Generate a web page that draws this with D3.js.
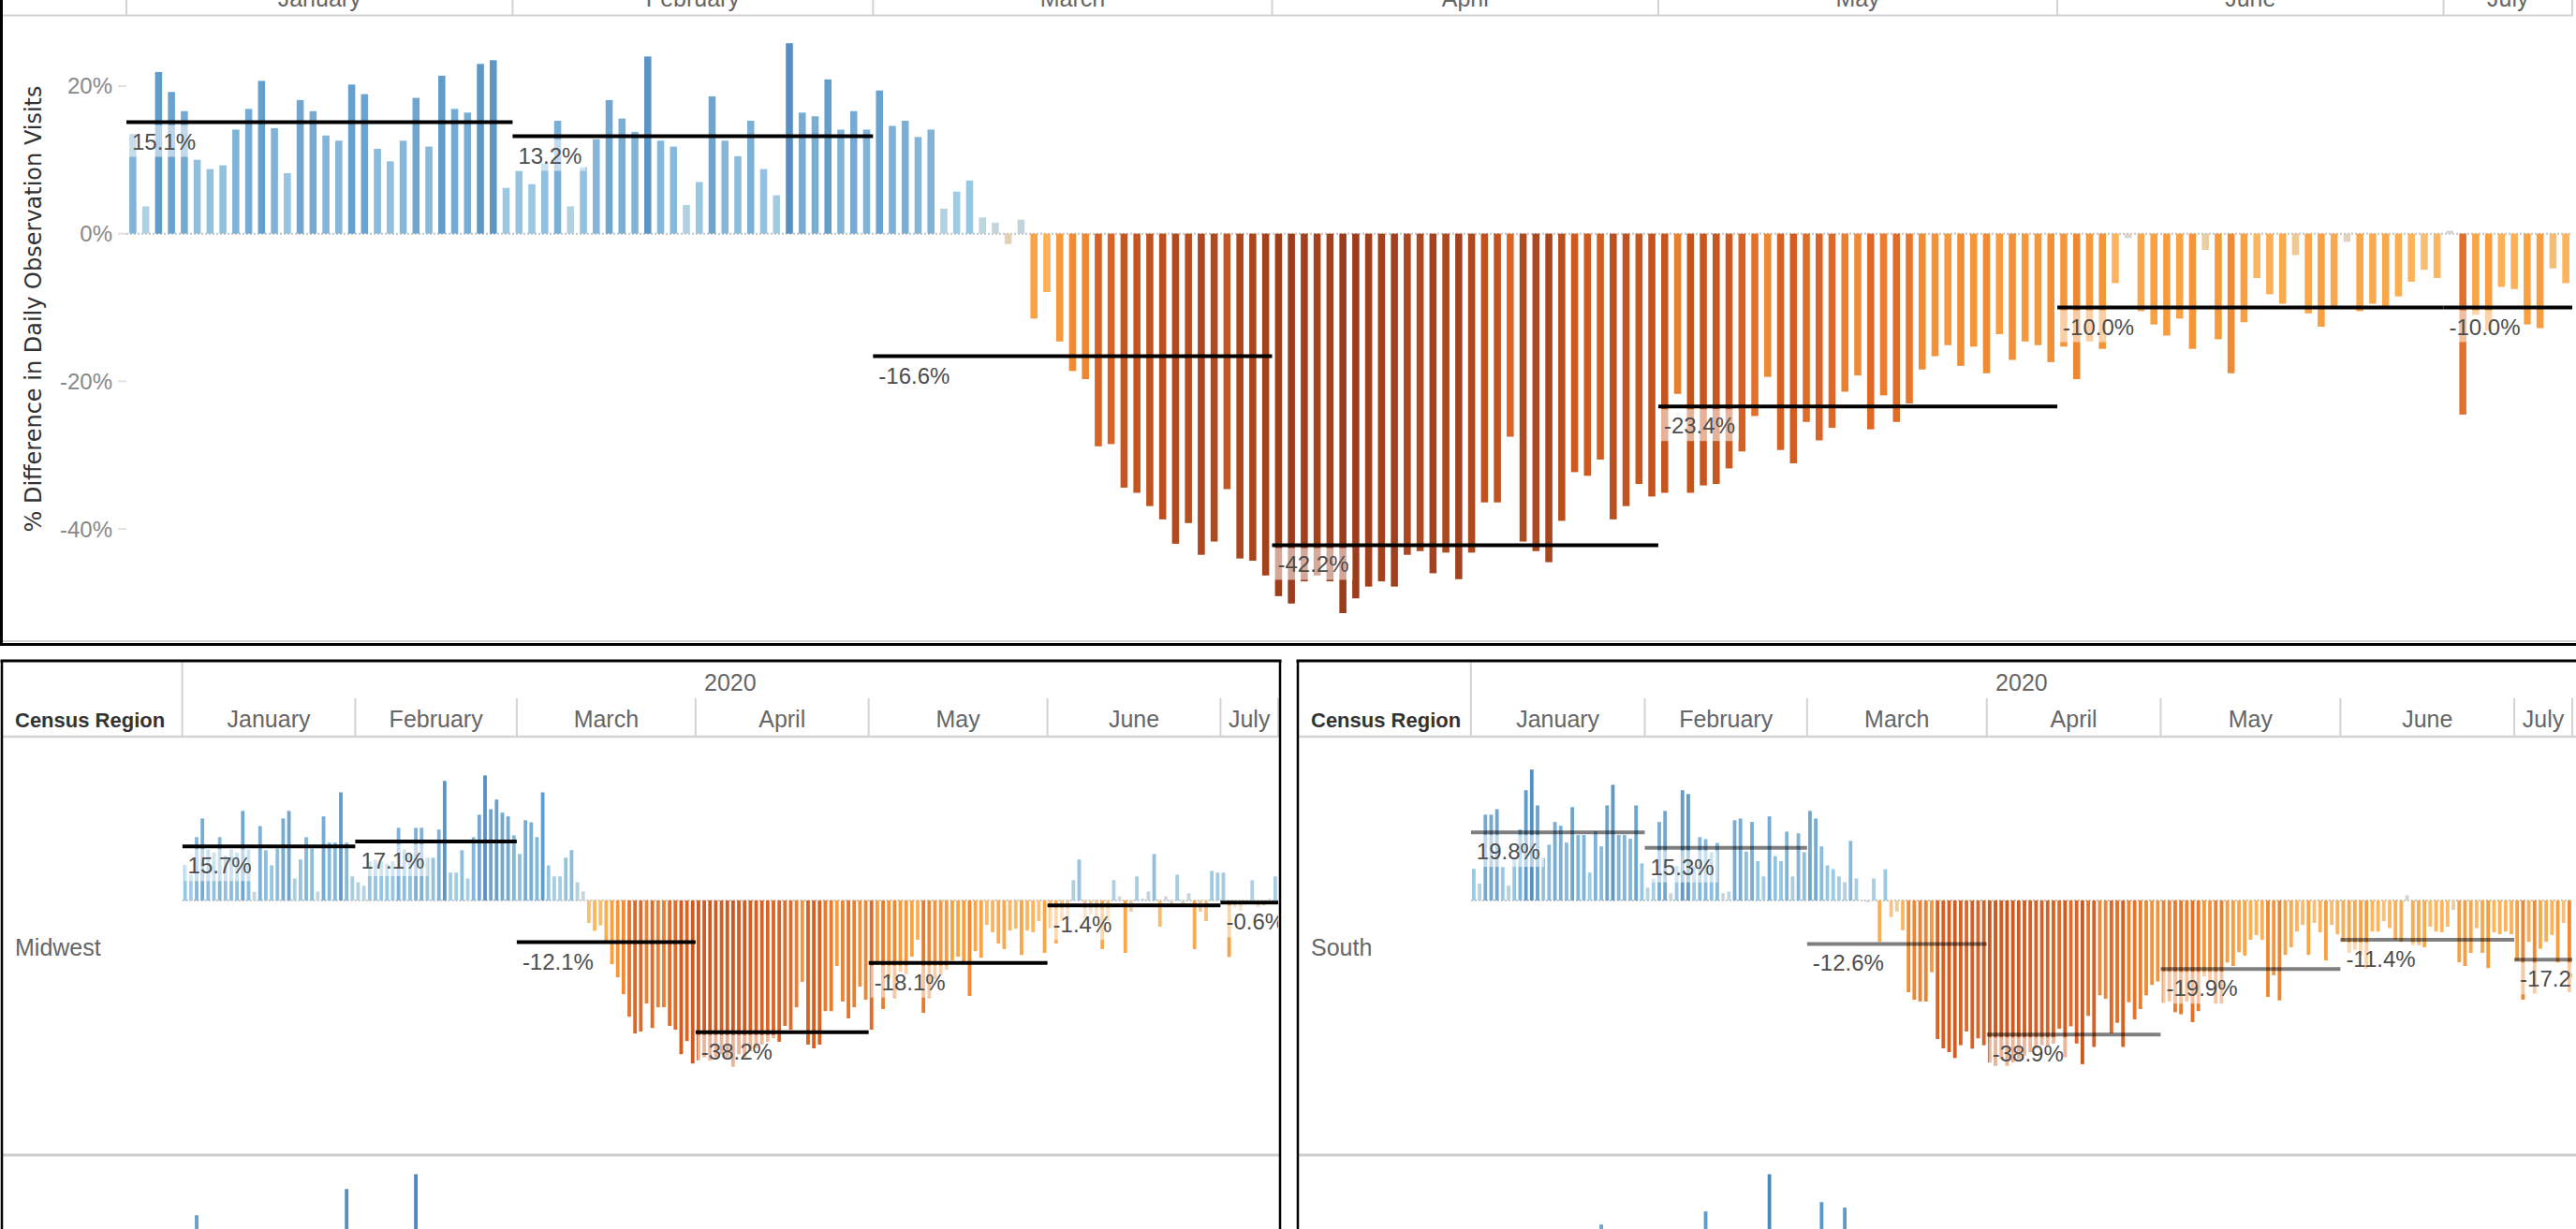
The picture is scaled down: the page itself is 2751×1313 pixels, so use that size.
<html>
<head>
<meta charset="utf-8">
<script src="https://d3js.org/d3.v7.min.js"></script>
<style>
body { margin: 0; background: white; overflow: hidden; }
text { font-family: "Liberation Sans", Arial, sans-serif; }
.tick-label { fill: #888; font-size: 24px; }
.head { fill: #666; font-size: 25px; }
.value-label { fill: #4d4d4d; font-size: 24px; }
.region-title { fill: #333; font-size: 22px; font-weight: bold; }
</style>
</head>
<body>
<svg id="chart" width="2751" height="1313"></svg>
<script>
// ---- data (% difference in daily observation visits, 2020) ----
var months = ["January", "February", "March", "April", "May", "June", "July"];
var monthDays = [30, 28, 31, 30, 31, 30, 10];
var yTicks = [20, 0, -20, -40];

var nationalValues = [
  13.5, 3.7, 21.9, 19.2, 16.6, 10.0, 8.75, 9.26, 14.1, 16.9, 20.7, 14.3, 8.2, 18.1, 16.6, 13.3, 12.6, 20.2, 18.9, 11.5, 9.8, 12.6, 18.4, 11.8, 21.4, 16.9, 16.4, 23.0, 23.5, 6.2,
  8.5, 6.7, 9.5, 15.3, 3.7, 9.0, 12.8, 18.1, 15.6, 13.8, 24.0, 12.6, 11.8, 3.9, 7.0, 18.6, 12.6, 10.5, 15.3, 8.75, 5.2, 25.8, 16.4, 15.9, 20.9, 14.1, 16.6, 14.1,
  19.4, 14.6, 15.3, 13.1, 14.1, 3.4, 5.7, 7.2, 2.2, 1.5, -1.4, 1.9, -11.5, -7.9, -14.6, -18.6, -19.7, -28.8, -28.5, -34.4, -35.1, -36.9, -38.7, -42.0, -39.2, -43.5, -41.7, -34.6, -44.0, -44.3, -46.3,
  -49.1, -50.1, -47.1, -46.3, -47.1, -51.4, -49.4, -47.8, -47.1, -47.8, -43.5, -43.0, -46.0, -43.2, -46.8, -43.2, -36.4, -36.4, -27.5, -41.7, -43.0, -44.5, -38.9, -32.3, -32.8, -30.6, -38.7, -36.9, -33.9, -35.6,
  -35.1, -21.7, -35.1, -34.1, -33.9, -31.8, -29.5, -24.7, -19.4, -29.3, -31.1, -25.5, -28.0, -26.3, -21.4, -19.2, -26.5, -21.9, -25.5, -23.0, -18.4, -16.6, -15.1, -17.9, -15.3, -18.9, -13.6, -17.1, -14.6, -15.1, -17.4,
  -15.3, -19.7, -14.6, -15.6, -6.7, -0.6, -10.5, -12.3, -13.8, -11.5, -15.6, -2.2, -14.3, -18.9, -12.0, -6.0, -8.2, -9.5, -2.9, -10.8, -12.6, -9.8, -1.1, -10.5, -9.5, -9.8, -8.5, -6.5, -4.9, -6.0,
  0.4, -24.5, -11.0, -13.1, -7.2, -7.5, -12.3, -12.8, -4.7, -6.7
];
var nationalAvg = [15.1, 13.2, -16.6, -42.2, -23.4, -10.0, -10.0];

var midwestValues = [
  10.3, 7.5, 18.4, 23.8, 14.8, 13.9, 18.4, 13.0, 14.8, 13.9, 26.0, 14.8, 2.5, 21.6, 14.6, 10.2, 15.1, 23.8, 26.0, 6.4, 11.9, 18.4, 15.1, 2.6, 24.4, 16.8, 16.8, 31.4, 16.8, 7.0,
  5.3, 4.3, 11.3, 11.8, 11.3, 10.7, 11.3, 21.1, 14.8, 13.3, 21.1, 21.1, 12.4, 12.4, 20.6, 34.7, 8.1, 8.1, 14.6, 6.4, 18.4, 24.9, 36.3, 26.5, 29.3, 25.5, 24.4, 18.9,
  13.5, 23.3, 22.7, 18.4, 31.4, 10.2, 7.0, 7.0, 12.4, 14.6, 5.3, 2.6, -6.5, -8.8, -7.2, -12.0, -18.5, -22.3, -27.2, -33.7, -38.6, -38.0, -29.9, -37.0, -31.0, -31.0, -36.4, -37.5, -44.6, -40.8, -47.3,
  -46.4, -45.5, -46.4, -45.5, -44.6, -45.5, -48.2, -44.6, -45.5, -43.7, -42.8, -41.8, -41.0, -40.0, -41.0, -36.4, -37.5, -31.0, -23.6, -41.8, -42.9, -41.8, -32.1, -32.1, -19.0, -29.3, -34.2, -31.0, -25.0, -28.8,
  -37.5, -18.7, -31.5, -22.8, -28.3, -20.7, -21.4, -16.3, -11.4, -32.6, -28.3, -22.8, -21.4, -20.1, -17.4, -16.3, -18.5, -27.7, -14.7, -16.6, -7.1, -9.2, -12.5, -14.1, -8.7, -8.2, -15.8, -8.7, -9.2, -6.0, -15.2,
  -8.0, -12.5, -6.0, -5.0, 5.9, 11.9, -5.0, -4.0, -5.0, -14.1, -6.0, 5.9, 1.2, -15.2, -3.3, 7.0, 0.6, 2.6, 13.5, -7.6, 1.2, -1.1, 7.5, -1.1, 2.1, -14.1, -3.3, -6.0, 8.6, 8.1,
  8.1, -16.4, -2.2, -3.0, -1.0, 5.9, -2.0, -1.5, 0.5, 7.0
];
var midwestAvg = [15.7, 17.1, -12.1, -38.2, -18.1, -1.4, -0.6];

var southValues = [
  9.2, 4.9, 24.9, 24.9, 26.5, 9.7, 4.3, 12.4, 20.6, 32.0, 38.0, 27.6, 12.4, 16.2, 22.8, 21.7, 16.8, 27.1, 19.0, 19.0, 8.1, 20.1, 15.7, 27.6, 33.6, 19.0, 19.0, 17.9, 27.6, 10.8,
  3.7, 6.4, 22.8, 26.0, 2.1, 10.0, 32.0, 30.9, 10.0, 18.4, 17.8, 14.0, 16.7, 2.1, 2.6, 23.3, 23.8, 14.2, 22.8, 11.4, 7.0, 24.4, 12.9, 11.4, 20.0, 7.0, 19.5, 14.0,
  26.0, 23.8, 15.7, 10.2, 9.1, 7.0, 5.3, 17.3, 6.4, -0.3, -0.5, 6.4, -12.0, 9.1, -4.8, -3.2, -8.6, -26.6, -28.8, -29.3, -29.3, -20.8, -40.2, -42.9, -44.0, -45.7, -42.0, -38.0, -43.0, -40.0, -42.0,
  -47.0, -48.0, -46.0, -48.0, -47.0, -46.0, -45.0, -44.0, -43.0, -42.0, -42.1, -41.5, -37.2, -45.5, -36.5, -41.5, -47.5, -33.5, -42.5, -27.5, -28.5, -38.5, -35.5, -42.5, -29.5, -34.5, -31.5, -27.5, -24.5, -23.5,
  -29.7, -29.3, -32.4, -33.0, -29.3, -35.3, -32.1, -22.0, -23.4, -29.9, -29.9, -18.0, -19.0, -15.0, -16.0, -11.4, -10.0, -11.4, -28.0, -21.7, -29.0, -15.8, -13.6, -9.0, -7.1, -15.8, -6.5, -9.2, -17.4, -7.1, -9.8,
  -12.0, -15.2, -14.3, -16.0, -19.7, -9.0, -9.0, -6.0, -8.0, -11.4, -12.0, 1.5, -13.0, -13.0, -13.6, -7.6, -9.0, -9.2, -7.6, -2.7, -17.9, -19.0, -15.2, -8.0, -15.2, -19.6, -9.2, -9.8, -9.0, -9.8,
  -17.4, -28.8, -12.0, -27.0, -14.0, -12.0, -10.0, -18.0, -6.5, -26.6
];
var southAvg = [19.8, 15.3, -12.6, -38.9, -19.9, -11.4, -17.2];

// next row of regions is cut off by the window: only the tallest peaks show [day index, value]
var lowerLeftPeaks = [[2, 30.1], [28, 37.7], [40, 42.0]];
var lowerRightPeaks = [[22, 27.4], [40, 31.2], [51, 42.0], [60, 33.9], [64, 32.3]];

// ---- drawing ----
var svg = d3.select('#chart');
var W = 2751;
var monthStart = Array.from(d3.cumsum([0].concat(monthDays)));
var gridColor = '#d3d3d3';

var colorScale = d3.scaleLinear()
  .domain([-50, -42, -34, -26, -19, -12, -6, -2, 0, 2, 6, 14, 22, 30])
  .range(['#9b3c1d', '#b04a1f', '#c8561f', '#e06927', '#f08a33', '#f9a142', '#fdb55e', '#e9cfa6',
          '#d6d6d6', '#c0d5de', '#9ccae3', '#7fb3d8', '#609bc9', '#4a84bb'])
  .clamp(true);

function pct(v) { return v.toFixed(1) + '%'; }

var defs = svg.append('defs');
function clip(id, x, y, w, h) {
  defs.append('clipPath').attr('id', id).append('rect')
    .attr('x', x).attr('y', y).attr('width', w).attr('height', h);
}

function hline(x1, x2, y, color, w) {
  svg.append('line').attr('x1', x1).attr('x2', x2).attr('y1', y).attr('y2', y)
    .attr('stroke', color).attr('stroke-width', w);
}
function vline(x, y1, y2, color, w) {
  svg.append('line').attr('x1', x).attr('x2', x).attr('y1', y1).attr('y2', y2)
    .attr('stroke', color).attr('stroke-width', w);
}

function drawSeries(values, avgs, x0, x1, y, opt) {
  var xb = d3.scaleBand().domain(d3.range(values.length)).range([x0, x1])
    .paddingInner(opt.pad).paddingOuter(opt.pad / 2);
  var xd = d3.scaleLinear().domain([0, values.length]).range([x0, x1]);
  var g = svg.append('g').attr('clip-path', 'url(#' + opt.clip + ')');

  g.append('line')
    .attr('x1', x0).attr('x2', x1).attr('y1', y(0)).attr('y2', y(0))
    .attr('stroke', '#c4c4c4').attr('stroke-width', 2).attr('stroke-dasharray', '2,2');

  g.selectAll('rect.bar').data(values).enter().append('rect')
    .attr('class', 'bar')
    .attr('x', function(d, i) { return xb(i); })
    .attr('width', xb.bandwidth())
    .attr('y', function(d) { return y(Math.max(0, d)); })
    .attr('height', function(d) { return Math.abs(y(d) - y(0)); })
    .attr('fill', function(d) { return colorScale(d / opt.colorDiv); });

  var boxes = g.append('g'), lines = g.append('g'), labels = g.append('g');
  avgs.forEach(function(a, m) {
    var ly = y(a);
    var lx0 = xd(monthStart[m]), lx1 = xd(monthStart[m + 1]);
    var t = labels.append('text').attr('class', 'value-label')
      .attr('x', lx0 + 6).attr('y', ly + 29).text(pct(a));
    var tw = t.node().getComputedTextLength();
    boxes.append('rect')
      .attr('x', lx0 + 2).attr('y', ly + 3).attr('width', tw + 8).attr('height', 34)
      .attr('fill', 'white').attr('fill-opacity', 0.55);
    lines.append('line')
      .attr('x1', lx0).attr('x2', lx1).attr('y1', ly).attr('y2', ly)
      .attr('stroke', opt.lineColor).attr('stroke-width', 4);
  });
  return xd;
}

function drawPeaks(peaks, n, x0, x1, y, clipId, colorDiv, pad) {
  var xb = d3.scaleBand().domain(d3.range(n)).range([x0, x1])
    .paddingInner(pad).paddingOuter(pad / 2);
  svg.append('g').attr('clip-path', 'url(#' + clipId + ')')
    .selectAll('rect').data(peaks).enter().append('rect')
    .attr('x', function(d) { return xb(d[0]); })
    .attr('width', xb.bandwidth())
    .attr('y', function(d) { return y(d[1]); })
    .attr('height', function(d) { return y(0) - y(d[1]); })
    .attr('fill', function(d) { return colorScale(d[1] / colorDiv); });
}

// ---------- top (national) chart ----------
var topL = 135, topR = 2747, topHead = 17, topBottom = 685;
var yTop = d3.scaleLinear().domain([-55.2, 29.5]).range([topBottom, topHead]);
clip('clipTop', topL, topHead, topR - topL, topBottom - topHead);

var xTop = drawSeries(nationalValues, nationalAvg, topL, topR, yTop,
  { pad: 0.45, clip: 'clipTop', colorDiv: 1, lineColor: '#000' });

// header (its labels sit mostly above the window, as in the dashboard crop)
hline(0, topR, 16.5, gridColor, 2);
vline(topL, 0, 17, gridColor, 2);
monthStart.slice(1).forEach(function(s) { vline(xTop(s), 0, 17, gridColor, 2); });
svg.append('g').selectAll('text').data(months).enter().append('text')
  .attr('class', 'head')
  .attr('text-anchor', 'middle')
  .attr('x', function(d, i) { return (xTop(monthStart[i]) + xTop(monthStart[i + 1])) / 2; })
  .attr('y', 7)
  .text(function(d) { return d; });

// y axis
var yAxisG = svg.append('g');
yAxisG.selectAll('line').data(yTicks).enter().append('line')
  .attr('x1', 126).attr('x2', topL).attr('y1', function(d) { return yTop(d); })
  .attr('y2', function(d) { return yTop(d); })
  .attr('stroke', '#e0e0e0').attr('stroke-width', 2);
yAxisG.selectAll('text').data(yTicks).enter().append('text')
  .attr('class', 'tick-label')
  .attr('text-anchor', 'end')
  .attr('x', 120)
  .attr('y', function(d) { return yTop(d); })
  .attr('dy', '0.35em')
  .text(function(d) { return d + '%'; });

svg.append('text')
  .attr('transform', 'translate(44,330) rotate(-90)')
  .attr('text-anchor', 'middle')
  .style('font-family', '"DejaVu Sans", Verdana, sans-serif')
  .style('font-size', '24px')
  .style('fill', '#333')
  .text('% Difference in Daily Observation Visits');

// frame of top sheet
hline(0, W, 685, gridColor, 2);
hline(0, W, 688.5, '#000', 3);
vline(1.5, 0, 690, '#000', 3);

// ---------- regional sheets ----------
var subTop = 706, headMid = 746, headBottom = 787, rowSplit = 1234, rowH = rowSplit - headBottom;
var ySub = d3.scaleLinear().domain([-73.6, 47.55]).range([rowSplit - 1, headBottom]);
var ySub2 = d3.scaleLinear().domain([-73.6, 47.55]).range([rowSplit - 1 + rowH, headBottom + rowH]);

function drawRegionSheet(p) {
  clip(p.id + 'A', p.x0, headBottom, p.x1 - p.x0, rowSplit - headBottom - 1);
  clip(p.id + 'B', p.x0, rowSplit + 2, p.x1 - p.x0, 1313 - rowSplit);

  var xd = drawSeries(p.values, p.avgs, p.x0, p.x1, ySub,
    { pad: 0.38, clip: p.id + 'A', colorDiv: 1.45, lineColor: p.lineColor });
  drawPeaks(p.peaks, p.values.length, p.x0, p.x1, ySub2, p.id + 'B', 1.45, 0.38);

  // header
  hline(p.left, p.right, headBottom, gridColor, 2.5);
  vline(p.x0, subTop, headBottom, gridColor, 2);
  monthStart.slice(1).forEach(function(s) { vline(xd(s), headMid, headBottom, gridColor, 2); });
  svg.append('text').attr('class', 'head').attr('text-anchor', 'middle')
    .attr('x', (p.x0 + p.x1) / 2).attr('y', 738).text('2020');
  svg.append('g').selectAll('text').data(months).enter().append('text')
    .attr('class', 'head')
    .attr('text-anchor', 'middle')
    .attr('x', function(d, i) { return (xd(monthStart[i]) + xd(monthStart[i + 1])) / 2; })
    .attr('y', 777)
    .text(function(d) { return d; });
  svg.append('text').attr('class', 'region-title')
    .attr('x', p.left + 14).attr('y', 777).text('Census Region');
  svg.append('text').attr('class', 'head')
    .attr('x', p.left + 14).attr('y', 1021).text(p.name);

  // row divider and frame
  hline(p.left, p.right, rowSplit, '#cccccc', 3);
  hline(p.left - 1.5, p.right + 1.5, subTop, '#000', 3);
  vline(p.left, subTop, 1313, '#000', 2.5);
  if (p.right < W) vline(p.right, subTop, 1313, '#000', 2.5);
}

drawRegionSheet({ id: 'mw', name: 'Midwest', left: 2, right: 1367, x0: 194.6, x1: 1365,
  values: midwestValues, avgs: midwestAvg, lineColor: '#000', peaks: lowerLeftPeaks });
drawRegionSheet({ id: 'so', name: 'South', left: 1386, right: 2760, x0: 1570.8, x1: 2747,
  values: southValues, avgs: southAvg, lineColor: 'rgba(0,0,0,0.5)', peaks: lowerRightPeaks });
</script>
</body>
</html>
